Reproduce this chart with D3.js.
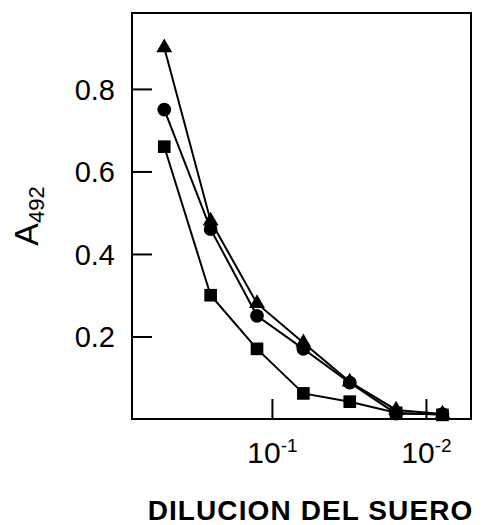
<!DOCTYPE html>
<html>
<head>
<meta charset="utf-8">
<script src="https://cdn.jsdelivr.net/npm/d3@7"></script>
<style>
  body { margin: 0; background: #fff; }
  text { font-family: "Liberation Sans", Arial, sans-serif; fill: #000; }
  .axis path { display: none; }
  .axis line { stroke: #000; stroke-width: 2; }
</style>
</head>
<body>
<svg id="chart"></svg>
<script>
// serum dilutions (1/2 ... 1/128)
var dilutions = [1/2, 1/4, 1/8, 1/16, 1/32, 1/64, 1/128];
var triangleVals = [0.90, 0.48, 0.28, 0.185, 0.09, 0.022, 0.012];
var circleVals   = [0.75, 0.46, 0.25, 0.17, 0.088, 0.013, 0.012];
var squareVals   = [0.66, 0.30, 0.17, 0.062, 0.042, 0.015, 0.01];
var yTicks = [0.2, 0.4, 0.6, 0.8];
var xTicks = [1e-1, 1e-2];
var xTickExp = ["-1", "-2"];

var margin = {top: 13, right: 26, bottom: 106, left: 132},
    width = 497 - margin.left - margin.right,
    height = 525 - margin.top - margin.bottom;

var svg = d3.select("#chart")
    .attr("width", 497)
    .attr("height", 525)
  .append("g")
    .attr("transform", "translate(" + margin.left + "," + margin.top + ")");

var x = d3.scaleLog()
    .domain([0.81, 0.0051])
    .range([0, width]);

var y = d3.scaleLinear()
    .domain([0, 0.984])
    .range([height, 0]);

// frame
svg.append("rect")
    .attr("width", width)
    .attr("height", height)
    .attr("fill", "none")
    .attr("stroke", "#000")
    .attr("stroke-width", 2);

// y axis, ticks pointing inside
var yAxis = svg.append("g")
    .attr("class", "axis")
    .call(d3.axisLeft(y).tickValues(yTicks).tickSizeInner(-20).tickSizeOuter(0)
        .tickPadding(17).tickFormat(d3.format(".1f")));
yAxis.selectAll("text")
    .style("font-size", "29px")
    .attr("dy", "0.35em");

// x axis
var xAxis = svg.append("g")
    .attr("class", "axis")
    .attr("transform", "translate(0," + height + ")")
    .call(d3.axisBottom(x).tickValues(xTicks).tickSizeInner(-20).tickSizeOuter(0)
        .tickFormat(""));
xAxis.selectAll(".tick").each(function(d, i) {
    var t = d3.select(this).append("text")
        .attr("y", 44)
        .attr("text-anchor", "middle")
        .style("font-size", "30px");
    t.append("tspan").text("10");
    t.append("tspan").attr("dy", -11).style("font-size", "19px").text(xTickExp[i]);
});

// series
var series = [
    {vals: triangleVals, shape: d3.symbolTriangle, size: 110},
    {vals: circleVals, shape: d3.symbolCircle, size: 150},
    {vals: squareVals, shape: d3.symbolSquare, size: 160}
];

var line = d3.line()
    .x(function(d) { return x(d[0]); })
    .y(function(d) { return y(d[1]); });

series.forEach(function(s) {
    var pts = dilutions.map(function(dl, i) { return [dl, s.vals[i]]; });
    svg.append("path")
        .datum(pts)
        .attr("fill", "none")
        .attr("stroke", "#000")
        .attr("stroke-width", 2)
        .attr("d", line);
    svg.selectAll(null)
        .data(pts)
        .enter().append("path")
        .attr("transform", function(d) { return "translate(" + x(d[0]) + "," + y(d[1]) + ")"; })
        .attr("d", d3.symbol().type(s.shape).size(s.size))
        .attr("fill", "#000");
});

// y label A492
var ylab = svg.append("text")
    .attr("transform", "translate(-94," + (height / 2) + ") rotate(-90)")
    .attr("text-anchor", "middle")
    .style("font-size", "34px");
ylab.append("tspan").text("A");
ylab.append("tspan").attr("dy", 6).style("font-size", "22px").text("492");

// x label
svg.append("text")
    .attr("x", width / 2 + 9)
    .attr("y", height + 101)
    .attr("text-anchor", "middle")
    .style("font-size", "28px")
    .style("font-weight", "bold")
    .style("letter-spacing", "1.1px")
    .text("DILUCION DEL SUERO");
</script>
</body>
</html>
